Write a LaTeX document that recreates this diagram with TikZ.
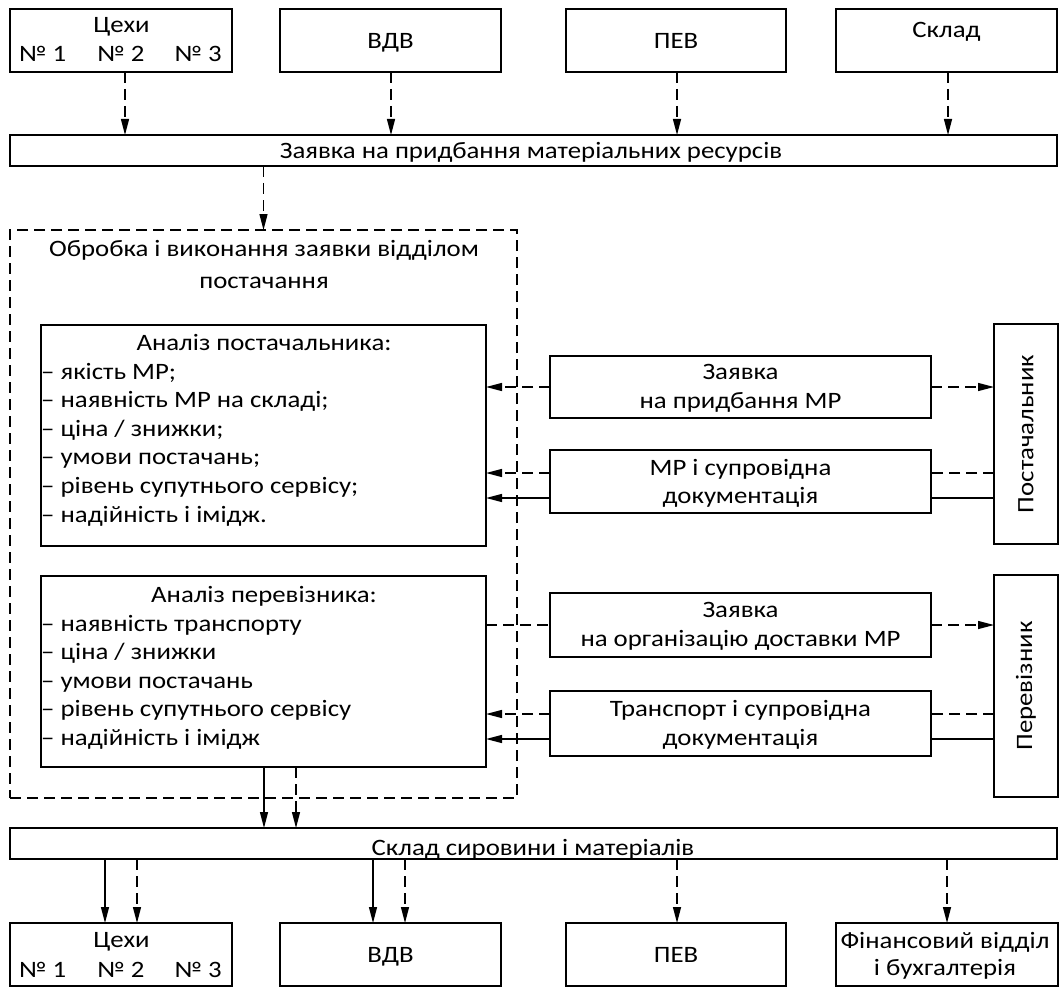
\documentclass[tikz,border=0pt]{standalone}
\usepackage{fontspec}
\setmainfont{Carlito}[FakeStretch=1.14]
\usetikzlibrary{arrows.meta,calc}
\begin{document}
\begin{tikzpicture}[x=1pt,y=-1pt,
  box/.style={draw,line width=1.3pt,rectangle,inner sep=0pt,outer sep=0pt},
  dbox/.style={box,dash pattern=on 11pt off 6pt},
  conn/.style={line width=1.3pt},
  dsh/.style={conn,dash pattern=on 11pt off 6pt},
  tip/.style={-{Triangle[length=16pt,width=8pt]}},
  txt/.style={inner sep=0pt,anchor=base,font=\fontsize{23.5}{28.7}\selectfont},
  ltxt/.style={txt,anchor=base west},
  rtxt/.style={txt,anchor=base east},
]
\useasboundingbox (0,0) rectangle (1059,987);

% ---------- top row ----------
\node[box,minimum width=222pt,minimum height=63pt] (t1) at (121,40.5) {};
\node[box,minimum width=221pt,minimum height=63pt] (t2) at (390.5,40.5) {};
\node[box,minimum width=220pt,minimum height=63pt] (t3) at (676,40.5) {};
\node[box,minimum width=221pt,minimum height=63pt] (t4) at (946.5,40.5) {};
\node[txt] (t1a) at (121.5,33) {Цехи};
\node[ltxt] (t1b) at (19,62) {№ 1};
\node[txt] (t1c) at (121,62) {№ 2};
\node[rtxt] (t1d) at (222,62) {№ 3};
\node[txt] (t2a) at (390.5,49) {ВДВ};
\node[txt] (t3a) at (676,49) {ПЕВ};
\node[txt] (t4a) at (946.5,38) {Склад};

\node[box,minimum width=1047pt,minimum height=31pt] (bar1) at (533.5,150.5) {};
\node[txt] (bar1t) at (531,159) {Заявка на придбання матеріальних ресурсів};

\coordinate (x125) at (125,0);
\coordinate (x391) at (391,0);
\coordinate (x677) at (677,0);
\coordinate (x948) at (948,0);
\draw[dsh,tip] (t1.south -| x125) -- (bar1.north -| x125);
\draw[dsh,tip] (t2.south -| x391) -- (bar1.north -| x391);
\draw[dsh,tip] (t3.south -| x677) -- (bar1.north -| x677);
\draw[dsh,tip] (t4.south -| x948) -- (bar1.north -| x948);

% ---------- container ----------
\node[dbox,minimum width=507pt,minimum height=568pt] (cont) at (263.5,514) {};
\node[txt] (ct1) at (264,256) {Обробка і виконання заявки відділом};
\node[txt] (ct2) at (264,288) {постачання};
\draw[dsh,tip] (bar1.south -| cont.north) -- (cont.north);

% analysis of supplier
\node[box,minimum width=445pt,minimum height=221pt] (A1) at (263.5,435.5) {};
\node[txt] (A1h) at (264,350) {Аналіз постачальника:};
\node[ltxt] (A1a) at (41,379) {– якість МР;};
\node[ltxt] (A1b) at (41,407.6) {– наявність МР на складі;};
\node[ltxt] (A1c) at (41,436.2) {– ціна / знижки;};
\node[ltxt] (A1d) at (41,464.8) {– умови постачань;};
\node[ltxt] (A1e) at (41,493.4) {– рівень супутнього сервісу;};
\node[ltxt] (A1f) at (41,522) {– надійність і імідж.};

% analysis of carrier
\node[box,minimum width=445pt,minimum height=191pt] (A2) at (263.5,671.5) {};
\node[txt] (A2h) at (264,602) {Аналіз перевізника:};
\node[ltxt] (A2a) at (41,631) {– наявність транспорту};
\node[ltxt] (A2b) at (41,659.6) {– ціна / знижки};
\node[ltxt] (A2c) at (41,688.2) {– умови постачань};
\node[ltxt] (A2d) at (41,716.8) {– рівень супутнього сервісу};
\node[ltxt] (A2e) at (41,745.4) {– надійність і імідж};

% ---------- right column ----------
\node[box,minimum width=381pt,minimum height=62pt] (R1) at (740.5,387) {};
\node[txt] (R1a) at (740.5,379) {Заявка};
\node[txt] (R1b) at (740.5,408) {на придбання МР};
\node[box,minimum width=381pt,minimum height=63pt] (R2) at (740.5,481.5) {};
\node[txt] (R2a) at (740.5,475) {МР і супровідна};
\node[txt] (R2b) at (740.5,503) {документація};
\node[box,minimum width=381pt,minimum height=64pt] (R3) at (740.5,625) {};
\node[txt] (R3a) at (740.5,617) {Заявка};
\node[txt] (R3b) at (740.5,646) {на організацію доставки МР};
\node[box,minimum width=381pt,minimum height=65pt] (R4) at (740.5,723.5) {};
\node[txt] (R4a) at (740.5,716) {Транспорт і супровідна};
\node[txt] (R4b) at (740.5,745) {документація};

\node[box,minimum width=64pt,minimum height=220pt] (P) at (1026,434) {};
\node[txt,anchor=center,rotate=90] (Pt) at (1026,434) {Постачальник};
\node[box,minimum width=64pt,minimum height=222pt] (V) at (1026,686) {};
\node[txt,anchor=center,rotate=90] (Vt) at (1026,686) {Перевізник};

\coordinate (y473) at (0,473);
\coordinate (y498) at (0,498);
\coordinate (y714) at (0,714);
\coordinate (y739) at (0,739);
\draw[dsh,tip] (R1.west) -- (R1.west -| A1.east);
\draw[dsh,tip] (R1.east) -- (R1.east -| P.west);
\draw[dsh] (P.west |- y473) -- (R2.east |- y473);
\draw[dsh,tip] (R2.west |- y473) -- (A1.east |- y473);
\draw[conn] (P.west |- y498) -- (R2.east |- y498);
\draw[conn,tip] (R2.west |- y498) -- (A1.east |- y498);
\draw[dsh] (A2.east |- R3.west) -- (R3.west);
\draw[dsh,tip] (R3.east) -- (R3.east -| V.west);
\draw[dsh] (V.west |- y714) -- (R4.east |- y714);
\draw[dsh,tip] (R4.west |- y714) -- (A2.east |- y714);
\draw[conn] (V.west |- y739) -- (R4.east |- y739);
\draw[conn,tip] (R4.west |- y739) -- (A2.east |- y739);

% ---------- warehouse bar ----------
\node[box,minimum width=1047pt,minimum height=31pt] (bar2) at (533.5,843.5) {};
\node[txt] (bar2t) at (533,855) {Склад сировини і матеріалів};
\coordinate (x264) at (264,0);
\coordinate (x296) at (296,0);
\draw[conn,tip] (A2.south -| x264) -- (bar2.north -| x264);
\draw[dsh,tip] (A2.south -| x296) -- (bar2.north -| x296);

% ---------- bottom row ----------
\node[box,minimum width=222pt,minimum height=63pt] (b1) at (121,954.5) {};
\node[box,minimum width=221pt,minimum height=63pt] (b2) at (390.5,954.5) {};
\node[box,minimum width=220pt,minimum height=63pt] (b3) at (676,954.5) {};
\node[box,minimum width=222pt,minimum height=63pt] (b4) at (947,954.5) {};
\node[txt] (b1a) at (121.5,947) {Цехи};
\node[ltxt] (b1b) at (19,977) {№ 1};
\node[txt] (b1c) at (121,977) {№ 2};
\node[rtxt] (b1d) at (222,977) {№ 3};
\node[txt] (b2a) at (390.5,962) {ВДВ};
\node[txt] (b3a) at (676,962) {ПЕВ};
\node[txt] (b4a) at (945,948) {Фінансовий відділ};
\node[txt] (b4b) at (945,975) {і бухгалтерія};

\coordinate (x105) at (105,0);
\coordinate (x137) at (137,0);
\coordinate (x373) at (373,0);
\coordinate (x405) at (405,0);
\coordinate (x947) at (947,0);
\draw[conn,tip] (bar2.south -| x105) -- (b1.north -| x105);
\draw[dsh,tip] (bar2.south -| x137) -- (b1.north -| x137);
\draw[conn,tip] (bar2.south -| x373) -- (b2.north -| x373);
\draw[dsh,tip] (bar2.south -| x405) -- (b2.north -| x405);
\draw[dsh,tip] (bar2.south -| x677) -- (b3.north -| x677);
\draw[dsh,tip] (bar2.south -| x947) -- (b4.north -| x947);
\end{tikzpicture}
\end{document}
